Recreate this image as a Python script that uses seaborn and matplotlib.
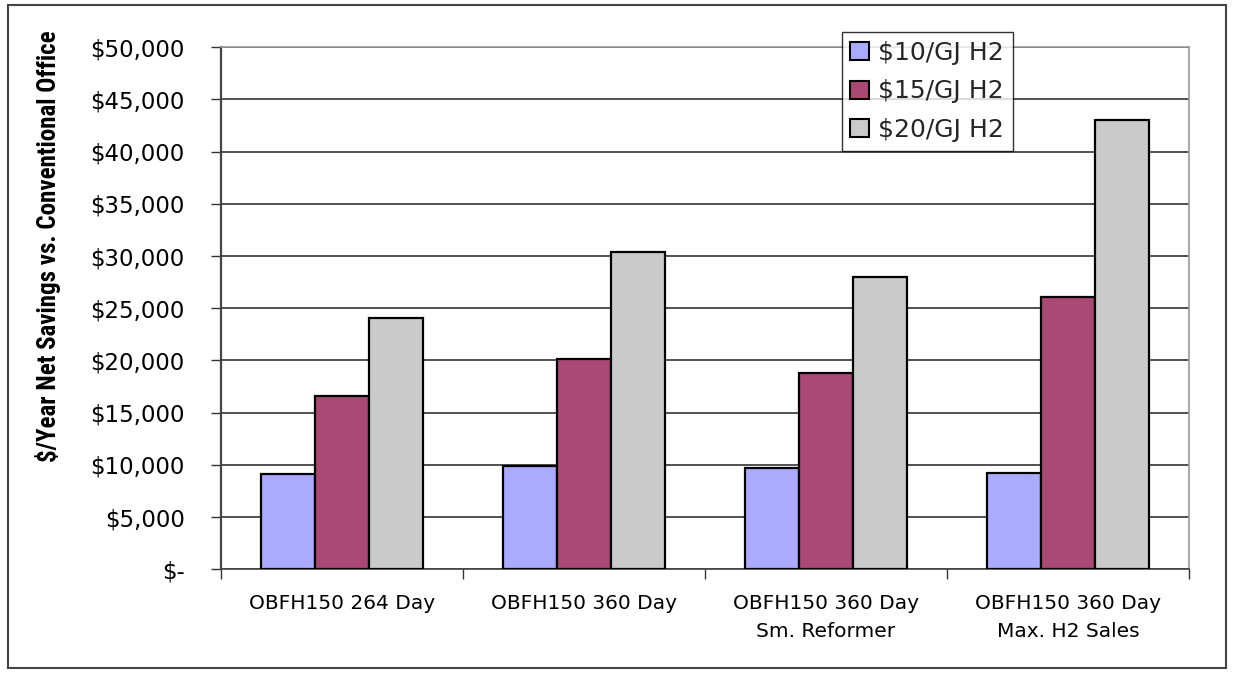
import matplotlib
matplotlib.use("Agg")
import matplotlib.pyplot as plt
from matplotlib.ticker import FuncFormatter
from matplotlib.patches import Rectangle
from matplotlib import font_manager
import seaborn as sns
import pandas as pd

categories = ["OBFH150 264 Day", "OBFH150 360 Day",
              "OBFH150 360 Day\nSm. Reformer", "OBFH150 360 Day\nMax. H2 Sales"]
series = ["$10/GJ H2", "$15/GJ H2", "$20/GJ H2"]
h2_10 = [9100, 9900, 9750, 9250]
h2_15 = [16600, 20100, 18800, 26100]
h2_20 = [24100, 30400, 28000, 43000]
colors = ["#AAAAFF", "#A94974", "#CACACA"]

df = pd.DataFrame({
    "category": categories * 3,
    "price": [series[0]] * 4 + [series[1]] * 4 + [series[2]] * 4,
    "savings": h2_10 + h2_15 + h2_20,
})

sns.set_theme(style="white")
plt.rcParams["font.family"] = ["DejaVu Sans"]

# narrow bold face for the value-axis title, if one is available
installed = {f.name for f in font_manager.fontManager.ttflist}
narrow = [n for n in ["Liberation Sans Narrow", "DejaVu Sans Condensed", "Roboto Condensed"]
          if n in installed]
title_family = (narrow[:1] or ["DejaVu Sans"]) + ["DejaVu Sans"]

fig = plt.figure(figsize=(12.33, 6.73), dpi=100)
ax = fig.add_axes([220.7 / 1233, 1 - 569.3 / 673, (1189 - 220.7) / 1233, (569.3 - 47.3) / 673])

sns.barplot(data=df, x="category", y="savings", hue="price", order=categories,
            hue_order=series, palette=colors, width=0.67, edgecolor="black",
            linewidth=1.6, saturation=1, ax=ax, zorder=3)

ax.set_ylim(0, 50000)
ax.set_xlim(-0.5, 3.5)
ax.set_yticks(range(0, 50001, 5000))
ax.yaxis.set_major_formatter(FuncFormatter(lambda v, p: "$-" if v == 0 else f"${v:,.0f}"))
ax.grid(axis="y", color="#333333", linewidth=1.2, zorder=0)
ax.set_axisbelow(True)

for side in ["top", "right"]:
    ax.spines[side].set_visible(True)
    ax.spines[side].set_color("#999999")
    ax.spines[side].set_linewidth(1.2)
ax.spines["left"].set_color("#444444")
ax.spines["left"].set_linewidth(1.6)
ax.spines["bottom"].set_color("#444444")
ax.spines["bottom"].set_linewidth(1.2)

ax.tick_params(axis="y", which="major", left=True, length=7, width=1, color="#333333",
               labelsize=16.5, pad=19, labelcolor="black")
ax.set_xticks([0, 1, 2, 3])
ax.set_xticklabels(categories, fontsize=14.5, linespacing=1.6)
ax.tick_params(axis="x", which="major", bottom=False, pad=12, labelcolor="black")
ax.set_xticks([-0.5, 0.5, 1.5, 2.5, 3.5], minor=True)
ax.tick_params(axis="x", which="minor", bottom=True, length=7, width=1, color="#333333")

ax.set_xlabel("")
ax.set_ylabel("")
fig.text(48 / 1233, 1 - 246 / 673, "$/Year Net Savings vs. Conventional Office",
         family=title_family, fontweight="bold", fontsize=18 if narrow else 13,
         rotation=90, ha="center", va="center", color="black")

leg = ax.legend(loc="upper left", bbox_to_anchor=((841.7 - 220.7) / (1189 - 220.7), 1.029),
                frameon=True, fancybox=False, fontsize=18, handlelength=0.75,
                handleheight=0.75, handletextpad=0.35, borderpad=0.35, labelspacing=0.58,
                borderaxespad=0)
leg.get_frame().set_edgecolor("black")
leg.get_frame().set_linewidth(1.0)
leg.set_zorder(5)
for h in leg.legend_handles:
    h.set_edgecolor("black")
    h.set_linewidth(1.5)

fig.patches.append(Rectangle((8 / 1233, 5 / 673), 1218 / 1233, 663 / 673,
                             transform=fig.transFigure, fill=False,
                             edgecolor="#444444", linewidth=1.5))

fig.savefig("out.png", dpi=100)
